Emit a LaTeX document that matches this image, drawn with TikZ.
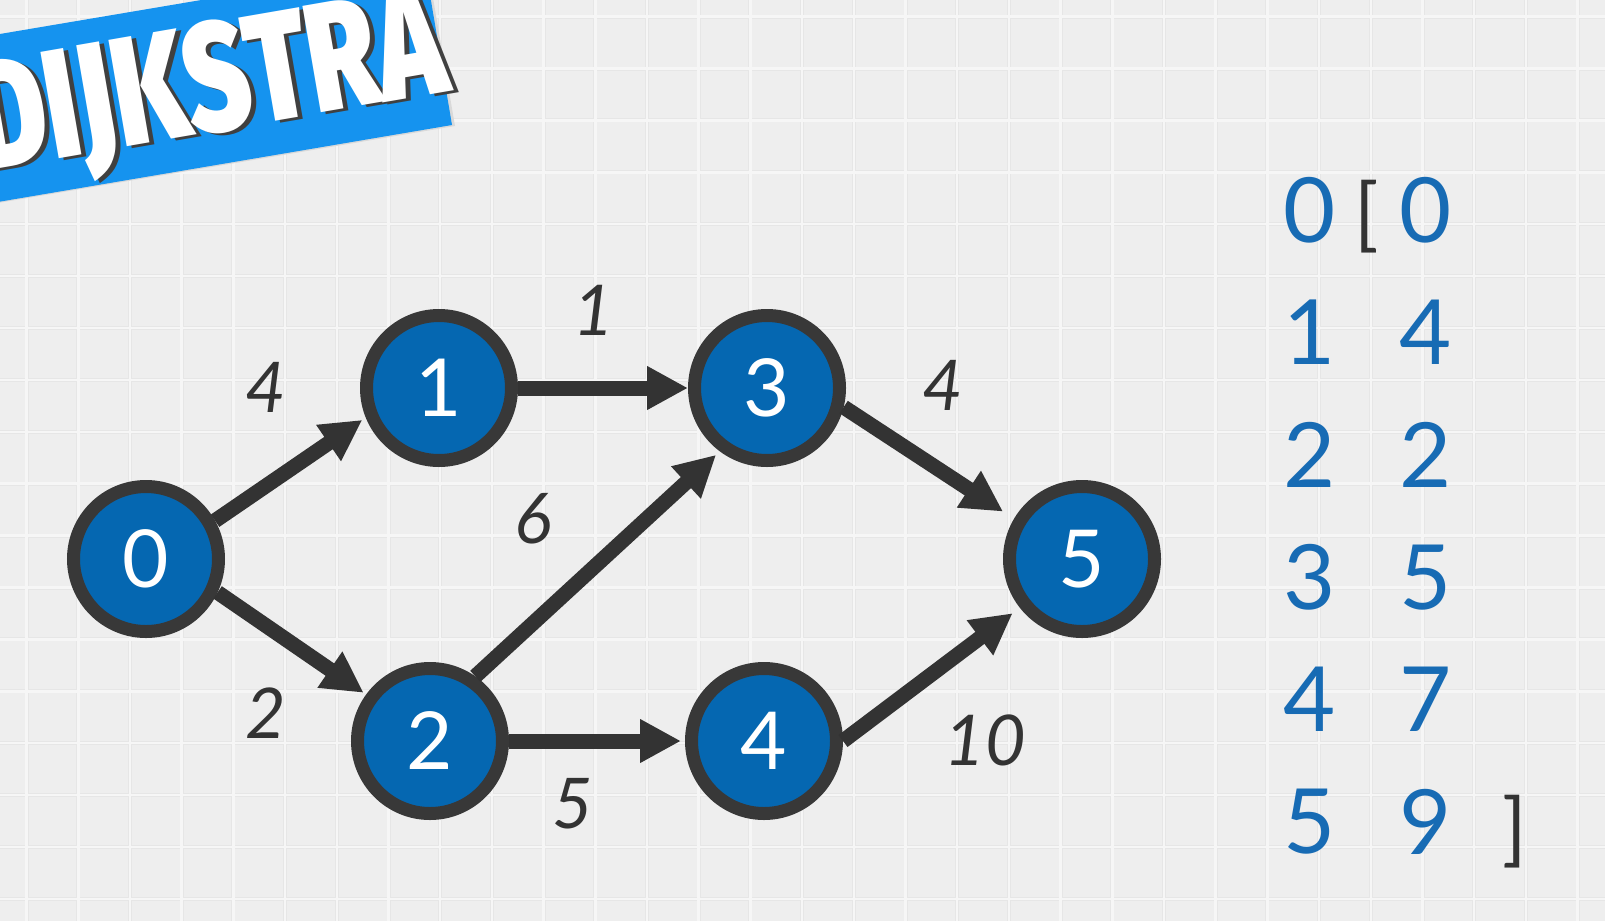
\documentclass[tikz,border=0pt]{standalone}
\usepackage{fontspec}
\setmainfont{Lato}
\IfFontExistsTF{Fira Sans Black}
  {\newfontfamily\bannerfont{Fira Sans Black}[FakeStretch=0.72]\def\bannerweight{}}
  {\IfFontExistsTF{Fira Sans ExtraBold}
    {\newfontfamily\bannerfont{Fira Sans ExtraBold}[FakeStretch=0.72]\def\bannerweight{}}
    {\newfontfamily\bannerfont{Fira Sans}[FakeStretch=0.74]\def\bannerweight{\bfseries}}}
\usetikzlibrary{arrows.meta}
\definecolor{bgc}{HTML}{EEEEEE}
\definecolor{gridedge}{HTML}{E6E6E6}
\definecolor{gridline}{HTML}{F6F6F6}
\definecolor{nodefill}{HTML}{0567B1}
\definecolor{nodeborder}{HTML}{383838}
\definecolor{arrowc}{HTML}{333333}
\definecolor{tblue}{HTML}{176BB4}
\definecolor{bannerblue}{HTML}{1593EF}
\definecolor{shadowc}{HTML}{404040}
\begin{document}
\begin{tikzpicture}[x=1pt,y=-1pt,
  vertex/.style={circle,draw=nodeborder,fill=nodefill,line width=13pt,minimum size=145pt,inner sep=0pt,text=white,font=\fontsize{80}{80}\selectfont},
  link/.style={draw=arrowc,line width=15pt,-{Triangle[length=41pt,width=41pt]}},
  wlabel/.style={text=arrowc,font=\fontsize{70}{70}\selectfont\itshape,inner sep=0pt},
  dist/.style={text=tblue,font=\fontsize{90}{90}\selectfont,inner sep=0pt},
  brk/.style={text=arrowc,font=\fontsize{80}{80}\selectfont,inner sep=0pt},
  bannertext/.style={inner sep=0pt,rotate=9.8,font=\bannerfont\bannerweight\fontsize{155}{155}\selectfont}
]
\fill[bgc] (0,0) rectangle (1605,921);
\useasboundingbox (0,0) rectangle (1605,921);
% grid
\foreach \i in {0,...,30} {
  \draw[gridedge,line width=4pt] ({26.6+51.7*\i},0) -- ({26.6+51.7*\i},921);
}
\foreach \j in {0,...,17} {
  \draw[gridedge,line width=4pt] (0,{16.6+51.9*\j}) -- (1605,{16.6+51.9*\j});
}
\foreach \i in {0,...,30} {
  \draw[gridline,line width=2.5pt] ({26.6+51.7*\i},0) -- ({26.6+51.7*\i},921);
}
\foreach \j in {0,...,17} {
  \draw[gridline,line width=2.5pt] (0,{16.6+51.9*\j}) -- (1605,{16.6+51.9*\j});
}
% banner
\fill[black!15] (-20,206) -- (455,126) -- (427,-37) -- (-47.5,43) -- cycle;
\fill[bannerblue] (-20,205) -- (452,125) -- (424.5,-37.7) -- (-47.5,42) -- cycle;
\node[bannertext,text=shadowc] (bannershadow) at (215,93) {DIJKSTRA};
\node[bannertext,text=white] (banner) at (210,91) {DIJKSTRA};
% nodes
\node[vertex] (n0) at (146,559) {0};
\node[vertex] (n1) at (439,388) {1};
\node[vertex] (n3) at (767,388) {3};
\node[vertex] (n2) at (430,741) {2};
\node[vertex] (n4) at (764,741) {4};
\node[vertex] (n5) at (1082,559) {5};
% edges
\draw[link] (n0.29) -- ([shift={(202.6:83pt)}]n1.center);
\draw[link] (n0.-25) -- ([shift={(144:82pt)}]n2.center);
\draw[link] (n1.0) -- (n3.180);
\draw[link] (n2.55) -- ([shift={(232.7:84pt)}]n3.center);
\draw[link] (n2.0) -- ([shift={(180:83pt)}]n4.center);
\draw[link] (n3.-14) -- ([shift={(149:92pt)}]n5.center);
\draw[link] (n4.0) -- ([shift={(218:88pt)}]n5.center);
% weights
\node[wlabel] (w01) at (266,387) {4};
\node[wlabel] (w13) at (594,310) {1};
\node[wlabel] (w23) at (533,519) {6};
\node[wlabel] (w35) at (943,385) {4};
\node[wlabel] (w02) at (266,713) {2};
\node[wlabel] (w24) at (573,804) {5};
\node[wlabel] (w45) at (985,740) {10};
% table
\foreach \v/\d [count=\k from 0] in {0/0,1/4,2/2,3/5,4/7,5/9} {
  \node[dist] (idx\v) at (1309.5,{210+122.4*\k}) {\v};
  \node[dist] (val\v) at (1425.5,{210+122.4*\k}) {\d};
}
\node[brk] (lb) at (1367,217) {[};
\node[brk] (rb) at (1515,832) {]};
\end{tikzpicture}
\end{document}
